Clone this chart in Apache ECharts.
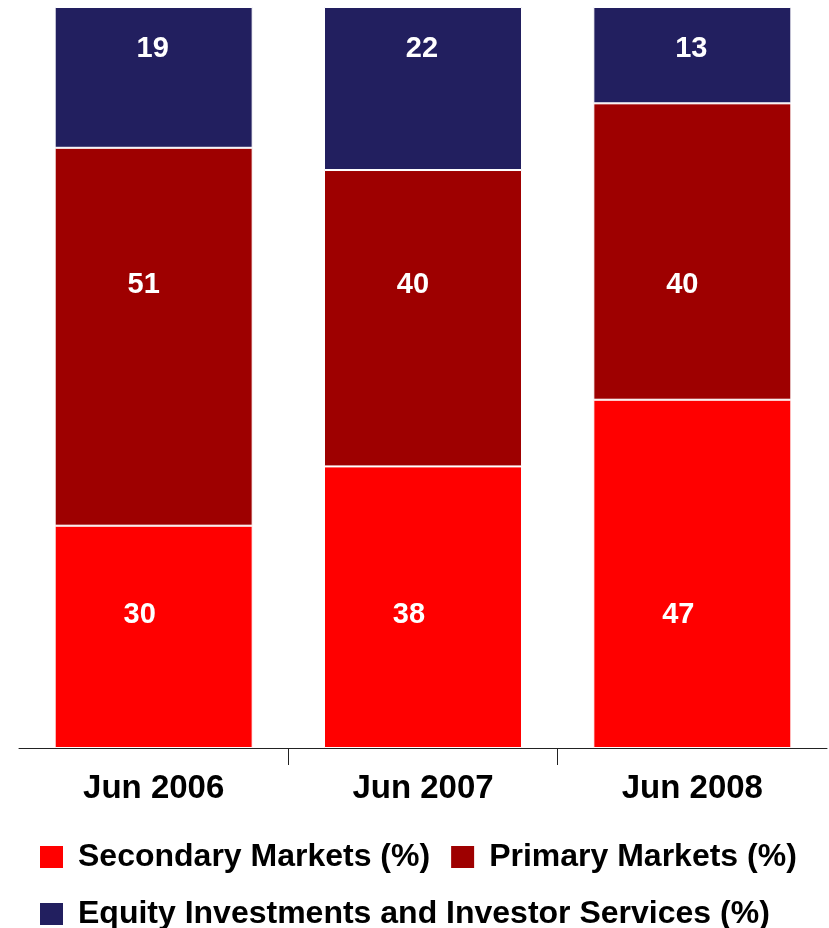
<!DOCTYPE html>
<html>
<head>
<meta charset="utf-8">
<script src="https://cdn.jsdelivr.net/npm/echarts@6/dist/echarts.min.js"></script>
<style>
  html, body { margin: 0; padding: 0; background: #fff; }
  #chart { width: 829px; height: 928px; }
</style>
</head>
<body>
<div id="chart"></div>
<script>
const categories = ['Jun 2006', 'Jun 2007', 'Jun 2008'];
const secondaryMarkets = [30, 38, 47];
const primaryMarkets = [51, 40, 40];
const equityInvestments = [19, 22, 13];
const seriesNames = ['Secondary Markets (%)', 'Primary Markets (%)', 'Equity Investments and Investor Services (%)'];
const tickSlots = ['', '', '', ''];

const colors = ['#FF0000', '#9E0000', '#221F5F'];
const FONT = '"Liberation Sans", Arial, sans-serif';

function barSeries(name, values, color) {
  return {
    name: name,
    type: 'bar',
    stack: 'total',
    barWidth: 198,
    data: values,
    itemStyle: { color: color, borderColor: '#ffffff', borderWidth: 1 },
    emphasis: { disabled: true }
  };
}

// Labels sit at a fixed height band per series (as in the original chart)
function labelSeries(values, labelLevel, dx) {
  return {
    type: 'scatter',
    xAxisIndex: 0,
    yAxisIndex: 0,
    symbolSize: 1,
    silent: true,
    z: 10,
    itemStyle: { color: 'transparent', opacity: 1 },
    data: values.map(function (v, i) { return [i, labelLevel, v]; }),
    label: {
      show: true,
      position: 'inside',
      offset: [dx, 0],
      formatter: function (p) { return String(p.value[2]); },
      color: '#ffffff',
      opacity: 1,
      textBorderWidth: 0,
      fontFamily: FONT,
      fontWeight: 'bold',
      fontSize: 29
    }
  };
}

const chart = echarts.init(document.getElementById('chart'), null, { renderer: 'canvas' });
chart.setOption({
  backgroundColor: '#ffffff',
  animation: false,
  grid: { left: 19, right: 2, top: 7, bottom: 180, containLabel: false },
  legend: {
    data: seriesNames,
    left: 40,
    top: 839,
    width: 785,
    padding: 0,
    orient: 'horizontal',
    itemWidth: 23,
    itemHeight: 22,
    itemGap: 21,
    icon: 'rect',
    itemStyle: { borderWidth: 0 },
    textStyle: {
      fontFamily: FONT,
      fontWeight: 'bold',
      fontSize: 32,
      color: '#000000',
      lineHeight: 36,
      padding: [0, 0, 0, 10]
    }
  },
  xAxis: [
    {
      type: 'category',
      data: categories,
      position: 'bottom',
      axisLine: { show: true, lineStyle: { color: '#222222', width: 1 } },
      axisTick: { show: false },
      axisLabel: {
        margin: 24,
        color: '#000000',
        fontFamily: FONT,
        fontWeight: 'bold',
        fontSize: 33
      },
      splitLine: { show: false }
    },
    {
      type: 'category',
      data: tickSlots,
      boundaryGap: false,
      position: 'bottom',
      axisLine: { show: false },
      axisLabel: { show: false },
      axisTick: {
        show: true,
        length: 17,
        interval: function (idx) { return idx === 1 || idx === 2; },
        lineStyle: { color: '#222222', width: 1 }
      },
      splitLine: { show: false }
    }
  ],
  yAxis: {
    type: 'value',
    min: 0,
    max: 100,
    show: false
  },
  series: [
    barSeries(seriesNames[0], secondaryMarkets, colors[0]),
    barSeries(seriesNames[1], primaryMarkets, colors[1]),
    barSeries(seriesNames[2], equityInvestments, colors[2]),
    labelSeries(secondaryMarkets, 17.9, -14),
    labelSeries(primaryMarkets, 62.5, -10),
    labelSeries(equityInvestments, 94.3, -1)
  ]
});
</script>
</body>
</html>
